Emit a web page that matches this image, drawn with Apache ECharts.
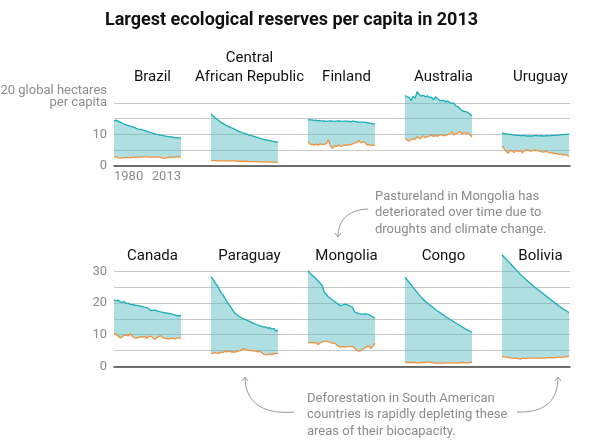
<!DOCTYPE html>
<html>
<head>
<meta charset="utf-8">
<script src="https://cdn.jsdelivr.net/npm/echarts@6/dist/echarts.min.js"></script>
<style>html,body{margin:0;padding:0;background:#fff}#c{width:600px;height:444px}</style>
</head>
<body>
<div id="c"></div>
<script>
// ---- data ----
const years = [];
for (let y = 1980; y <= 2013; y++) years.push(String(y));

const countriesTop = ['Brazil', 'Central\nAfrican Republic', 'Finland', 'Australia', 'Uruguay'];
const countriesBottom = ['Canada', 'Paraguay', 'Mongolia', 'Congo', 'Bolivia'];

const topTicks = [0, 10, 20];
const bottomTicks = [0, 10, 20, 30];
const xTickLabels = ['1980', '2013'];

// biocapacity (teal) and ecological footprint (orange), global hectares per capita
const bioBrazil = [14.2,14.5,14.2,13.9,13.6,13.3,13.0,12.8,12.6,12.4,12.2,11.9,11.7,11.6,11.4,11.2,11.0,10.8,10.6,10.4,10.2,10.0,9.9,9.8,9.6,9.5,9.4,9.3,9.2,9.1,9.0,8.95,8.9,8.8];
const footBrazil = [2.9,2.9,2.6,2.5,2.6,2.6,2.7,2.7,2.6,2.7,2.7,2.8,2.8,2.8,2.9,2.9,2.9,2.9,2.8,2.8,2.8,2.8,2.9,2.7,2.5,2.5,2.6,2.7,2.9,2.8,2.8,2.9,3.0,2.9];

const bioCAR = [16.5,15.9,15.3,14.8,14.3,13.8,13.4,13.0,12.7,12.4,12.1,11.8,11.5,11.2,10.9,10.6,10.4,10.2,10.0,9.8,9.6,9.4,9.2,9.0,8.8,8.6,8.45,8.3,8.15,8.0,7.85,7.7,7.6,7.5];
const footCAR = [1.7,1.7,1.7,1.7,1.6,1.6,1.6,1.6,1.6,1.6,1.6,1.6,1.6,1.5,1.5,1.5,1.5,1.5,1.5,1.4,1.4,1.4,1.4,1.4,1.3,1.3,1.3,1.3,1.3,1.2,1.2,1.2,1.2,1.2];

const bioFinland = [14.7,14.6,14.6,14.4,14.5,14.3,14.4,14.2,14.3,14.1,14.2,14.3,14.2,14.1,14.2,14.3,14.2,14.1,14.2,14.2,14.1,14.0,14.2,14.1,14.0,13.9,13.9,13.9,13.8,13.7,13.6,13.5,13.3,13.2];
const footFinland = [7.7,6.9,6.8,6.7,6.9,6.6,7.0,6.8,6.9,7.0,8.3,6.5,5.6,6.4,6.2,6.6,6.3,6.4,6.7,6.5,6.7,6.8,7.0,7.3,7.4,8.1,7.3,7.7,7.5,6.7,6.8,6.5,6.7,6.4];

const bioAustralia = [22.3,21.9,21.7,20.7,22.0,21.5,23.5,22.6,22.1,22.4,21.9,22.2,21.7,21.8,20.9,21.9,21.3,20.8,20.6,20.8,20.3,20.6,20.1,19.8,19.9,19.0,18.8,18.2,17.6,17.3,17.2,16.9,16.4,15.8];
const footAustralia = [8.8,8.2,7.9,8.3,8.6,8.4,9.3,8.7,8.9,9.6,9.0,9.2,9.5,9.8,9.3,9.7,9.4,9.8,9.9,9.5,9.7,9.9,10.1,10.9,9.8,10.2,10.4,11.0,10.1,10.6,10.3,10.5,9.8,9.2];

const bioUruguay = [10.4,10.3,10.2,10.1,10.0,9.9,9.8,9.7,9.7,9.6,9.6,9.6,9.5,9.5,9.5,9.5,9.6,9.6,9.5,9.6,9.5,9.5,9.6,9.5,9.6,9.7,9.7,9.8,9.8,9.9,9.9,10.0,10.0,10.1];
const footUruguay = [6.4,5.5,4.6,4.0,5.0,4.6,4.3,5.0,4.5,4.9,4.2,4.8,5.2,5.0,4.7,4.9,5.1,5.0,4.8,4.6,4.4,4.5,4.6,4.3,4.1,4.2,3.9,4.0,3.7,3.8,3.5,3.6,3.4,3.0];

const bioCanada = [21.0,20.8,20.9,20.4,20.2,20.5,19.8,20.0,19.6,19.5,19.4,19.3,19.2,19.0,18.9,18.7,18.6,18.3,17.6,17.7,17.8,17.6,17.4,17.2,17.1,16.9,16.9,16.7,16.7,16.4,16.3,16.0,16.0,16.1];
const footCanada = [10.5,10.1,9.6,9.0,9.3,9.8,9.9,9.6,10.3,9.5,9.0,8.9,9.1,9.4,9.2,9.5,8.9,9.3,9.6,9.1,8.6,9.0,9.4,9.7,9.1,8.9,8.8,8.6,9.0,8.8,8.7,9.0,9.0,8.9];

const bioParaguay = [28.4,27.5,26.5,25.6,24.5,23.2,22.6,21.3,20.3,19.4,18.5,17.4,16.7,16.2,15.7,15.3,15.0,14.8,14.5,14.2,13.9,13.6,13.3,13.0,12.8,12.6,12.5,12.4,12.1,12.2,11.8,12.0,11.1,11.6];
const footParaguay = [4.2,4.1,4.3,4.2,4.1,4.5,4.4,4.7,4.6,4.8,4.5,4.6,4.5,4.7,4.9,5.1,5.6,5.3,5.2,5.0,5.0,4.9,4.8,4.6,4.7,4.3,3.8,3.6,3.7,3.9,3.7,4.1,4.0,4.1];

const bioMongolia = [30.3,29.5,28.8,28.3,27.7,27.0,26.3,25.6,23.5,22.8,22.0,21.5,21.0,20.6,20.1,19.6,19.2,19.4,19.7,19.5,19.3,19.0,18.6,17.2,16.9,16.7,16.6,16.5,16.6,16.5,16.4,16.0,15.6,15.2];
const footMongolia = [7.6,7.5,7.6,7.4,7.6,6.9,7.4,7.7,7.9,8.0,7.7,7.6,7.2,7.4,6.9,6.3,6.1,6.3,6.1,6.2,6.2,6.2,6.3,5.7,5.1,4.8,5.0,5.5,5.8,6.2,6.5,5.6,6.5,7.3];

const bioCongo = [28.2,27.4,26.6,25.8,25.0,24.2,23.4,22.6,21.9,21.2,20.5,20.0,19.5,19.0,18.5,18.0,17.5,17.1,16.6,16.2,15.7,15.3,14.9,14.5,14.1,13.7,13.3,12.9,12.5,12.1,11.7,11.4,11.1,10.8];
const footCongo = [1.2,1.2,1.2,1.2,1.2,1.2,1.1,1.1,1.2,1.2,1.2,1.3,1.3,1.2,1.1,1.0,1.0,1.0,1.0,1.0,1.1,1.1,1.1,1.1,1.1,1.1,1.1,1.1,1.2,1.2,1.1,1.1,1.2,1.3];

const bioBolivia = [35.3,34.6,33.9,33.2,32.6,31.9,31.2,30.5,29.8,29.1,28.5,27.9,27.3,26.8,26.2,25.7,25.1,24.6,24.1,23.6,23.1,22.6,22.1,21.6,21.1,20.6,20.1,19.6,19.1,18.7,18.2,17.8,17.4,17.0];
const footBolivia = [3.1,3.0,2.9,2.8,2.7,2.6,2.6,2.5,2.4,2.3,2.5,2.5,2.5,2.6,2.6,2.6,2.6,2.6,2.6,2.7,2.6,2.6,2.7,2.8,2.7,2.7,2.7,2.8,2.8,2.9,2.9,3.0,3.1,3.2];

const bioTop = [bioBrazil, bioCAR, bioFinland, bioAustralia, bioUruguay];
const footTop = [footBrazil, footCAR, footFinland, footAustralia, footUruguay];
const bioBottom = [bioCanada, bioParaguay, bioMongolia, bioCongo, bioBolivia];
const footBottom = [footCanada, footParaguay, footMongolia, footCongo, footBolivia];

// ---- layout ----
const FONT = 'Roboto, "Open Sans", sans-serif';
const PX = 3.16;                 // pixels per hectare
const LEFT0 = 114, STEP = 97, PW = 67;
const TOP_BASE = 166, BOT_BASE = 366.3;
const TOP_MAX = 24, BOT_MAX = 36;
const TEAL = '#17aeb6', ORANGE = '#f0923c';
const GRAY = '#8c8c8c';

const chart = echarts.init(document.getElementById('c'), null, {renderer: 'canvas'});

const grids = [], xAxes = [], yAxes = [], series = [], titles = [];

titles.push({
  text: 'Largest ecological reserves per capita in 2013',
  left: 100, top: 6,
  textStyle: {fontFamily: FONT, fontSize: 18, fontWeight: 'bold', color: '#111'}
});

// background grids (gridlines + y labels + baseline)
function addBackground(base, max, ticks, isTop) {
  const gi = grids.length;
  grids.push({left: LEFT0, width: 456, top: base - max * PX, height: max * PX,
    containLabel: false, outerBoundsMode: 'none'});
  xAxes.push({gridIndex: gi, type: 'value', min: 0, max: 1,
    axisLine: {show: true, onZero: false, lineStyle: {color: '#444', width: 1.5}},
    axisTick: {show: false}, axisLabel: {show: false}, splitLine: {show: false}});
  yAxes.push({gridIndex: gi, type: 'value', min: 0, max: max, interval: 5,
    axisLine: {show: false}, axisTick: {show: false},
    splitLine: {show: true, lineStyle: {color: '#c8c8c8', width: 1}},
    axisLabel: {show: true, margin: 7, color: GRAY, fontFamily: FONT, fontSize: 13, lineHeight: 12,
      hideOverlap: false,
      formatter: function (v) {
        if (ticks.indexOf(v) < 0) return '';
        if (isTop && v === ticks[ticks.length - 1]) return v + ' global hectares\nper capita\n ';
        return String(v);
      }}});
  series.push({type: 'line', xAxisIndex: gi, yAxisIndex: gi, data: [], silent: true});
}
addBackground(TOP_BASE, 20, topTicks, true);
addBackground(BOT_BASE, 30, bottomTicks, false);

function addPanel(k, row, name, bio, foot) {
  const gi = grids.length;
  const base = row === 0 ? TOP_BASE : BOT_BASE;
  const max = row === 0 ? TOP_MAX : BOT_MAX;
  const left = LEFT0 + STEP * k;
  grids.push({left: left, width: PW, top: base - max * PX, height: max * PX,
    containLabel: false, outerBoundsMode: 'none'});
  const showX = (row === 0 && k === 0);
  xAxes.push({gridIndex: gi, type: 'category', data: years, boundaryGap: false,
    axisLine: {show: false}, axisTick: {show: false}, splitLine: {show: false},
    axisLabel: {show: showX, margin: 4, color: GRAY, fontFamily: FONT, fontSize: 13,
      alignMinLabel: 'left', alignMaxLabel: 'right', hideOverlap: false,
      interval: function (i, v) { return xTickLabels.indexOf(v) >= 0; }}});
  yAxes.push({gridIndex: gi, type: 'value', min: 0, max: max, show: false, splitLine: {show: false}});
  const stack = 's' + gi;
  series.push({type: 'line', xAxisIndex: gi, yAxisIndex: gi, stack: stack, data: foot,
    symbol: 'none', lineStyle: {opacity: 0}, silent: true});
  series.push({type: 'line', xAxisIndex: gi, yAxisIndex: gi, stack: stack,
    data: bio.map((b, i) => +(b - foot[i]).toFixed(3)),
    symbol: 'none', lineStyle: {opacity: 0}, silent: true,
    areaStyle: {color: '#4fb8bf', opacity: 0.45}});
  series.push({type: 'line', xAxisIndex: gi, yAxisIndex: gi, data: bio, symbol: 'none', z: 5,
    lineStyle: {color: TEAL, width: 1.3}});
  series.push({type: 'line', xAxisIndex: gi, yAxisIndex: gi, data: foot, symbol: 'none', z: 5,
    lineStyle: {color: ORANGE, width: 1.3}});
  const multi = name.indexOf('\n') >= 0;
  const nameBottom = row === 0 ? 82 : 261;
  titles.push({text: name, left: left + PW / 2, textAlign: 'center',
    top: nameBottom - (multi ? 38 : 19),
    textStyle: {fontFamily: FONT, fontSize: 15, fontWeight: 'normal', color: '#111', lineHeight: 19}});
}

countriesTop.forEach((n, k) => addPanel(k, 0, n, bioTop[k], footTop[k]));
countriesBottom.forEach((n, k) => addPanel(k, 1, n, bioBottom[k], footBottom[k]));

const annoStyle = {fontFamily: FONT, fontSize: 13, fill: GRAY, lineHeight: 16.5};
const arrowStyle = {stroke: '#9a9a9a', lineWidth: 1, fill: null};

const graphic = [
  {type: 'text', left: 375, top: 188, style: Object.assign({text: 'Pastureland in Mongolia has\ndeteriorated over time due to\ndroughts and climate change.'}, annoStyle)},
  {type: 'text', left: 307, top: 390, style: Object.assign({text: 'Deforestation in South American\ncountries is rapidly depleting these\nareas of their biocapacity.'}, annoStyle)},
  {type: 'bezierCurve', shape: {x1: 368, y1: 209, cpx1: 346, cpy1: 210, cpx2: 338, cpy2: 222, x2: 338, y2: 237}, style: arrowStyle},
  {type: 'polyline', shape: {points: [[335, 233], [338, 237], [341, 233]]}, style: arrowStyle},
  {type: 'bezierCurve', shape: {x1: 294, y1: 412, cpx1: 260, cpy1: 415, cpx2: 245, cpy2: 400, x2: 245, y2: 377}, style: arrowStyle},
  {type: 'polyline', shape: {points: [[242, 381], [245, 377], [248, 381]]}, style: arrowStyle},
  {type: 'bezierCurve', shape: {x1: 517, y1: 412, cpx1: 546, cpy1: 413, cpx2: 558, cpy2: 400, x2: 558, y2: 377}, style: arrowStyle},
  {type: 'polyline', shape: {points: [[555, 381], [558, 377], [561, 381]]}, style: arrowStyle}
];

chart.setOption({
  animation: false,
  backgroundColor: '#fff',
  title: titles,
  grid: grids,
  xAxis: xAxes,
  yAxis: yAxes,
  series: series,
  graphic: graphic
});
</script>
</body>
</html>
